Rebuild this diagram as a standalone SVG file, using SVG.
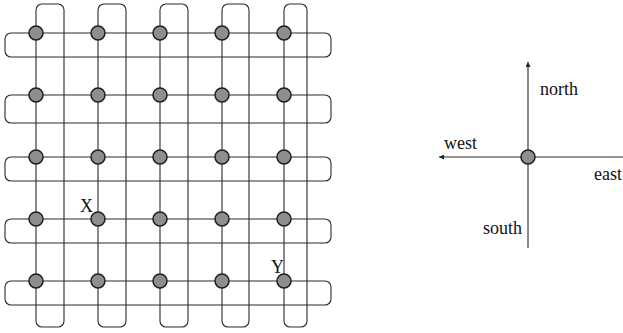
<svg xmlns="http://www.w3.org/2000/svg" width="623" height="333" viewBox="0 0 623 333">
  <defs>
    <marker id="arrow" viewBox="0 0 10 10" refX="10" refY="5" markerWidth="8" markerHeight="5" markerUnits="userSpaceOnUse" orient="auto">
      <path d="M0,0 L10,5 L0,10 Z" fill="#222"/>
    </marker>
  </defs>
  <style>
    .loop { fill: none; stroke: #2a2a2a; stroke-width: 1.1; }
    .axis { fill: none; stroke: #2a2a2a; stroke-width: 1.1; }
    .node { fill: #8e8e8e; stroke: #1e1e1e; stroke-width: 1.5; }
    .lbl { font-family: "Liberation Serif", "Times New Roman", serif; font-size: 18px; fill: #111; }
  </style>
  <rect width="623" height="333" fill="#fff"/>

  <!-- column and row loops of the mesh -->
  <g id="connectors">
    <rect class="loop" x="36" y="4" width="28" height="323" rx="6"/>
    <rect class="loop" x="98" y="4" width="28" height="323" rx="6"/>
    <rect class="loop" x="160" y="4" width="28" height="323" rx="6"/>
    <rect class="loop" x="222" y="4" width="27" height="323" rx="6"/>
    <rect class="loop" x="284" y="4" width="23" height="323" rx="6"/>

    <rect class="loop" x="5" y="33" width="326" height="24" rx="6"/>
    <rect class="loop" x="5" y="95" width="326" height="28" rx="6"/>
    <rect class="loop" x="5" y="157" width="326" height="24" rx="6"/>
    <rect class="loop" x="5" y="219" width="326" height="24" rx="6"/>
    <rect class="loop" x="5" y="281" width="326" height="24" rx="6"/>

    <!-- compass axes -->
    <line class="axis" x1="528" y1="157" x2="528" y2="62" marker-end="url(#arrow)"/>
    <line class="axis" x1="528" y1="157" x2="528" y2="248"/>
    <line class="axis" x1="528" y1="157" x2="439" y2="157" marker-end="url(#arrow)"/>
    <line class="axis" x1="528" y1="157" x2="623" y2="157"/>
  </g>

  <!-- mesh nodes -->
  <g id="n11"><circle class="node" cx="36" cy="33" r="7"/></g>
  <g id="n12"><circle class="node" cx="98" cy="33" r="7"/></g>
  <g id="n13"><circle class="node" cx="160" cy="33" r="7"/></g>
  <g id="n14"><circle class="node" cx="222" cy="33" r="7"/></g>
  <g id="n15"><circle class="node" cx="284" cy="33" r="7"/></g>

  <g id="n21"><circle class="node" cx="36" cy="95" r="7"/></g>
  <g id="n22"><circle class="node" cx="98" cy="95" r="7"/></g>
  <g id="n23"><circle class="node" cx="160" cy="95" r="7"/></g>
  <g id="n24"><circle class="node" cx="222" cy="95" r="7"/></g>
  <g id="n25"><circle class="node" cx="284" cy="95" r="7"/></g>

  <g id="n31"><circle class="node" cx="36" cy="157" r="7"/></g>
  <g id="n32"><circle class="node" cx="98" cy="157" r="7"/></g>
  <g id="n33"><circle class="node" cx="160" cy="157" r="7"/></g>
  <g id="n34"><circle class="node" cx="222" cy="157" r="7"/></g>
  <g id="n35"><circle class="node" cx="284" cy="157" r="7"/></g>

  <g id="n41"><circle class="node" cx="36" cy="219" r="7"/></g>
  <g id="nX"><circle class="node" cx="98" cy="219" r="7"/><text class="lbl" x="80" y="212">X</text></g>
  <g id="n43"><circle class="node" cx="160" cy="219" r="7"/></g>
  <g id="n44"><circle class="node" cx="222" cy="219" r="7"/></g>
  <g id="n45"><circle class="node" cx="284" cy="219" r="7"/></g>

  <g id="n51"><circle class="node" cx="36" cy="281" r="7"/></g>
  <g id="n52"><circle class="node" cx="98" cy="281" r="7"/></g>
  <g id="n53"><circle class="node" cx="160" cy="281" r="7"/></g>
  <g id="n54"><circle class="node" cx="222" cy="281" r="7"/></g>
  <g id="nY"><circle class="node" cx="284" cy="281" r="7"/><text class="lbl" x="271" y="273">Y</text></g>

  <!-- compass -->
  <g id="compass">
    <circle class="node" cx="528" cy="157" r="7"/>
    <text class="lbl" x="540" y="95">north</text>
    <text class="lbl" x="444" y="149">west</text>
    <text class="lbl" x="594" y="180">east</text>
    <text class="lbl" x="483" y="234">south</text>
  </g>
</svg>
